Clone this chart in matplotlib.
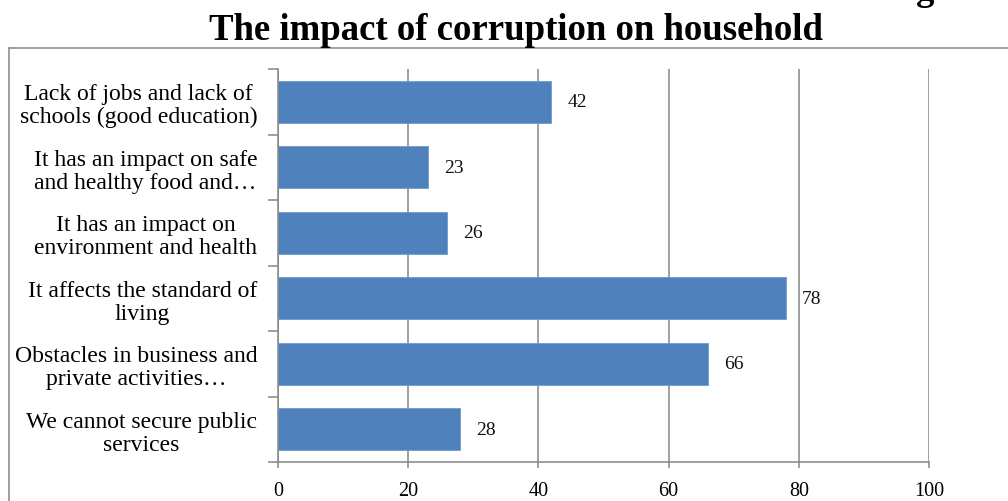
import matplotlib.pyplot as plt
from matplotlib.lines import Line2D

categories = [
    "Lack of jobs and lack of\nschools (good education)",
    "It has an impact on safe\nand healthy food and\u2026",
    "It has an impact on\nenvironment and health",
    "It affects the standard of\nliving",
    "Obstacles in business and\nprivate activities\u2026",
    "We cannot secure public\nservices",
]
values = [42, 23, 26, 78, 66, 28]
x_ticks = [0, 20, 40, 60, 80, 100]

plt.rcParams["font.family"] = ["Liberation Serif", "DejaVu Serif"]

GRAY = "#868686"
BLUE = "#4F81BD"

fig = plt.figure(figsize=(10.08, 5.02), dpi=100)
ax = fig.add_axes([278 / 1008, 1 - 463 / 502, (929 - 278) / 1008, (463 - 70) / 502])

pos = list(range(len(categories)))
bars = ax.barh(pos, values, height=0.64, color=BLUE, edgecolor="#6D9BD1", linewidth=0.6, zorder=3)

for bar, v in zip(bars, values):
    ax.annotate(str(v), xy=(bar.get_width(), bar.get_y() + bar.get_height() / 2),
                xytext=(11.5, 0), textcoords="offset points",
                ha="left", va="center", fontsize=14, color="#111111")

ax.set_xlim(0, 100)
ax.set_ylim(len(categories) - 0.5, -0.5)
ax.set_xticks(x_ticks)
ax.set_xticklabels([str(t) for t in x_ticks], fontsize=14.5)
ax.tick_params(axis="x", length=4, width=1.1, color=GRAY, pad=10)

ax.set_yticks(pos)
ax.set_yticklabels(categories, fontsize=17, multialignment="center", linespacing=1.12)
ax.tick_params(axis="y", which="major", length=0, pad=15)
ax.set_yticks([p - 0.5 for p in pos] + [len(pos) - 0.5], minor=True)
ax.tick_params(axis="y", which="minor", length=7, width=1.1, color=GRAY)

ax.grid(axis="x", color=GRAY, linewidth=1.1, zorder=0)
ax.set_axisbelow(True)
for side in ("top", "right"):
    ax.spines[side].set_visible(False)
for side in ("left", "bottom"):
    ax.spines[side].set_color(GRAY)
    ax.spines[side].set_linewidth(1.1)
    ax.spines[side].set_zorder(4)

# chart area frame, open on the right and bottom
fig.add_artist(Line2D([8.5 / 1008, 1.0], [1 - 48.5 / 502] * 2, color=GRAY, linewidth=1.1))
fig.add_artist(Line2D([8.5 / 1008] * 2, [1 - 48.5 / 502, 0.0], color=GRAY, linewidth=1.1))

fig.text(516 / 1008, 1 - 40 / 502, "The impact of corruption on household",
         ha="center", va="baseline", fontsize=26.5, fontweight="bold")
# tail of the heading line above
fig.text(925 / 1008, 1 - 0.5 / 502, "g", ha="center", va="baseline",
         fontsize=26.5, fontweight="bold")

fig.savefig("out.png", dpi=100)
